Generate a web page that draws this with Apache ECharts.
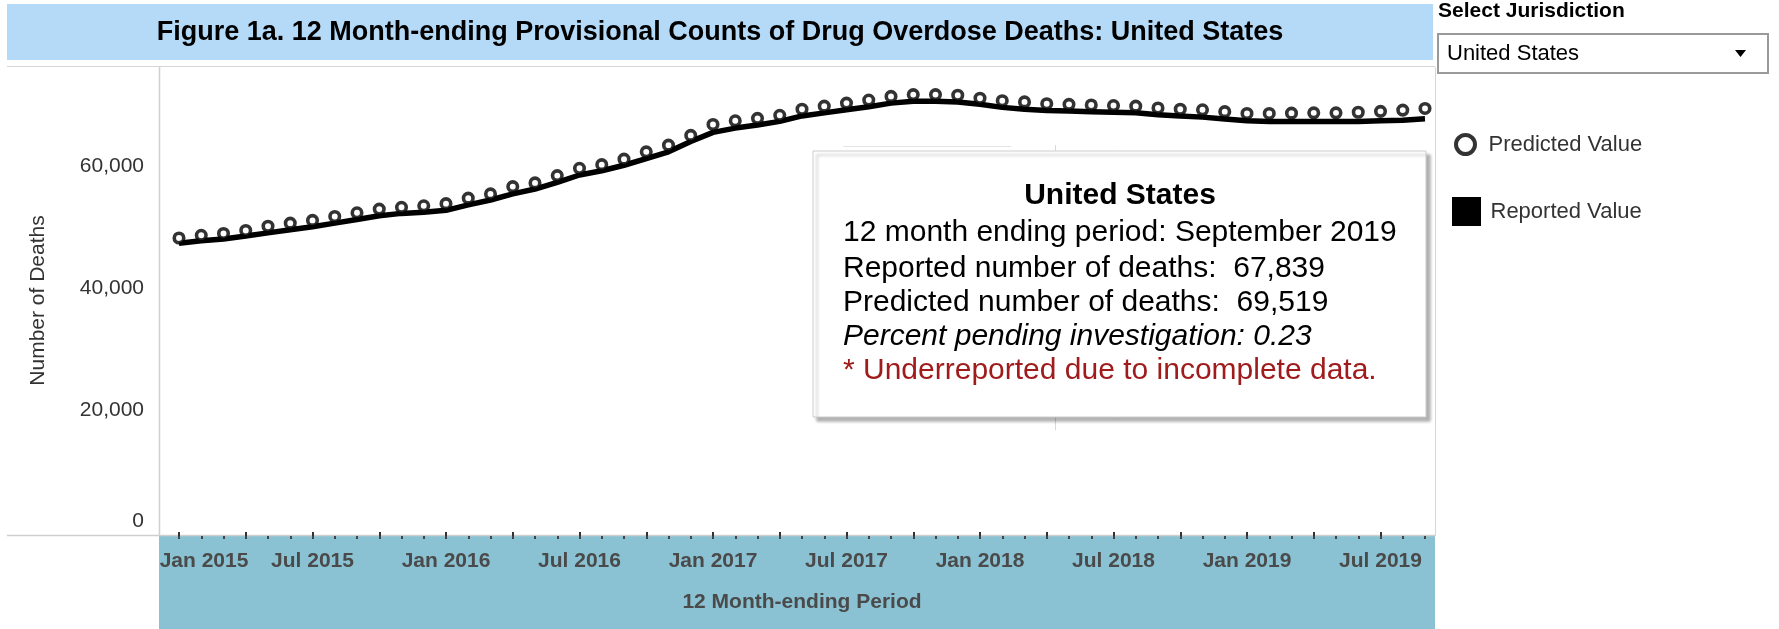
<!DOCTYPE html>
<html><head><meta charset="utf-8">
<script src="https://cdn.jsdelivr.net/npm/echarts@6/dist/echarts.min.js"></script>
<style>html,body{margin:0;padding:0;background:#fff}#c{width:1779px;height:629px}</style>
</head><body><div id="c"></div>
<script>
// ---- data ----
const months = ['Jan 2015','Feb 2015','Mar 2015','Apr 2015','May 2015','Jun 2015','Jul 2015','Aug 2015','Sep 2015','Oct 2015','Nov 2015','Dec 2015',
  'Jan 2016','Feb 2016','Mar 2016','Apr 2016','May 2016','Jun 2016','Jul 2016','Aug 2016','Sep 2016','Oct 2016','Nov 2016','Dec 2016',
  'Jan 2017','Feb 2017','Mar 2017','Apr 2017','May 2017','Jun 2017','Jul 2017','Aug 2017','Sep 2017','Oct 2017','Nov 2017','Dec 2017',
  'Jan 2018','Feb 2018','Mar 2018','Apr 2018','May 2018','Jun 2018','Jul 2018','Aug 2018','Sep 2018','Oct 2018','Nov 2018','Dec 2018',
  'Jan 2019','Feb 2019','Mar 2019','Apr 2019','May 2019','Jun 2019','Jul 2019','Aug 2019','Sep 2019'];
const predicted = [48260,48700,49000,49500,50200,50700,51150,51800,52400,53000,53300,53550,
  53900,54800,55500,56700,57300,58500,59700,60300,61200,62400,63500,65100,
  66900,67500,67900,68400,69400,69900,70400,70900,71500,71800,71800,71700,
  71200,70800,70600,70300,70200,70100,70000,69900,69600,69400,69300,69000,
  68700,68700,68750,68800,68800,68900,69050,69250,69519];
const reported = [47400,47800,48100,48600,49100,49600,50100,50700,51300,51900,52300,52500,
  52800,53700,54500,55500,56300,57400,58600,59300,60200,61300,62400,64100,
  65600,66300,66800,67400,68300,68800,69300,69800,70400,70700,70700,70600,
  70200,69700,69400,69200,69100,69000,68900,68800,68500,68300,68100,67800,
  67500,67400,67400,67400,67400,67400,67500,67600,67839];
const yTicks = [0, 20000, 40000, 60000];
const xLabelMonths = ['Jan', 'Jul'];
const jurisdiction = 'United States';
const pendingPct = '0.23';
const monthFull = {Jan:'January',Feb:'February',Mar:'March',Apr:'April',May:'May',Jun:'June',Jul:'July',Aug:'August',Sep:'September',Oct:'October',Nov:'November',Dec:'December'};

// ---- chart ----
const FONT = '"Liberation Sans", Arial, Helvetica, sans-serif';
const fmt = v => v.toLocaleString('en-US');
const last = months.length - 1;
const lastPeriod = monthFull[months[last].slice(0,3)] + ' ' + months[last].slice(4);

const chart = echarts.init(document.getElementById('c'), null, {renderer: 'canvas'});

const tipLines = [
  {text: '12 month ending period: ' + lastPeriod, style: {}},
  {text: 'Reported number of deaths:  ' + fmt(reported[last]), style: {}},
  {text: 'Predicted number of deaths:  ' + fmt(predicted[last]), style: {}},
  {text: 'Percent pending investigation: ' + pendingPct, style: {fontStyle: 'italic'}},
  {text: '* Underreported due to incomplete data.', style: {fill: '#a01c1c'}}
];
const tipLineY = [233, 269, 303, 337, 371];

const graphics = [
  {type: 'rect', z: -5, shape: {x: 7, y: 4, width: 1426, height: 56}, style: {fill: '#b4daf8'}},
  {type: 'text', x: 720, y: 33, style: {text: 'Figure 1a. 12 Month-ending Provisional Counts of Drug Overdose Deaths: ' + jurisdiction,
    fontFamily: FONT, fontSize: 27, fontWeight: 'bold', fill: '#000', align: 'center', verticalAlign: 'middle'}},
  {type: 'rect', z: -5, shape: {x: 159, y: 536, width: 1276, height: 93}, style: {fill: '#8ac2d3'}},
  {type: 'line', z: -4, shape: {x1: 7, y1: 66.5, x2: 1435, y2: 66.5}, style: {stroke: '#d6d6d6', lineWidth: 1}},
  {type: 'line', z: -4, shape: {x1: 7, y1: 535.5, x2: 1435, y2: 535.5}, style: {stroke: '#cfcfcf', lineWidth: 1.5}},
  {type: 'line', z: -4, shape: {x1: 159.5, y1: 67, x2: 159.5, y2: 536}, style: {stroke: '#d0d0d0', lineWidth: 1.5}},
  {type: 'line', z: -4, shape: {x1: 1435.5, y1: 67, x2: 1435.5, y2: 536}, style: {stroke: '#d6d6d6', lineWidth: 1}},
  {type: 'line', z: -4, shape: {x1: 1055.5, y1: 145, x2: 1055.5, y2: 430}, style: {stroke: '#d8d8d8', lineWidth: 1}},
  {type: 'line', z: -4, shape: {x1: 843, y1: 146.5, x2: 1011, y2: 146.5}, style: {stroke: '#e4e4e4', lineWidth: 1}},
  // jurisdiction selector
  {type: 'text', x: 1438, y: 11, style: {text: 'Select Jurisdiction', fontFamily: FONT, fontSize: 21, fontWeight: 'bold', fill: '#000', align: 'left', verticalAlign: 'middle'}},
  {type: 'rect', shape: {x: 1438, y: 34, width: 330, height: 39}, style: {fill: '#fff', stroke: '#9a9a9a', lineWidth: 2}},
  {type: 'text', x: 1447, y: 54, style: {text: jurisdiction, fontFamily: FONT, fontSize: 22, fill: '#000', align: 'left', verticalAlign: 'middle'}},
  {type: 'polygon', shape: {points: [[1735, 50], [1746, 50], [1740.5, 57]]}, style: {fill: '#000'}},
  // tooltip box
  {type: 'rect', z: 10, shape: {x: 813, y: 151, width: 613, height: 266}, style: {fill: '#fff', stroke: '#cccccc', lineWidth: 1,
    shadowBlur: 3, shadowOffsetX: 4, shadowOffsetY: 4, shadowColor: 'rgba(0,0,0,0.3)'}},
  {type: 'text', z: 11, x: 1120, y: 196, style: {text: jurisdiction, fontFamily: FONT, fontSize: 30, fontWeight: 'bold', fill: '#000', align: 'center', verticalAlign: 'middle'}}
];
tipLines.forEach((l, i) => {
  graphics.push({type: 'text', z: 11, x: 843, y: tipLineY[i], style: Object.assign({text: l.text, fontFamily: FONT, fontSize: 30, fill: '#000', align: 'left', verticalAlign: 'middle'}, l.style)});
});

const xLabelStyle = {fontFamily: FONT, fontSize: 21, fontWeight: 'bold', color: '#4a4a4a'};
const SQUARE = 'path://M0,0H10V10H0Z';

const option = {
  animation: false,
  backgroundColor: '#fff',
  grid: {left: 179, right: 354, top: 69, bottom: 97, containLabel: false},
  legend: [
    {data: [{name: 'Predicted Value', icon: 'circle', itemStyle: {color: '#fff', borderColor: '#000', borderWidth: 4}}],
      orient: 'vertical', left: 1454, top: 133, padding: 0, itemWidth: 36, itemHeight: 19, selectedMode: false,
      textStyle: {fontFamily: FONT, fontSize: 22, color: '#333'}},
    {data: [{name: 'Reported Value', icon: SQUARE, itemStyle: {color: '#000', borderWidth: 0}}],
      orient: 'vertical', left: 1452, top: 197, padding: 0, itemWidth: 38, itemHeight: 29, selectedMode: false,
      textStyle: {fontFamily: FONT, fontSize: 22, color: '#333'}}
  ],
  xAxis: [
    {type: 'category', data: months, boundaryGap: false, position: 'bottom', offset: 4,
      axisLine: {show: false},
      axisTick: {show: true, interval: (i) => i % 3 === 0, length: 7, lineStyle: {color: '#333', width: 2}},
      axisLabel: Object.assign({interval: 0, margin: 15,
        formatter: (v, i) => {
          if (!xLabelMonths.includes(v.slice(0, 3))) return '';
          return i === 0 ? '{first|' + v + '}' : v;
        },
        rich: {first: Object.assign({padding: [0, 0, 0, 50]}, xLabelStyle)}}, xLabelStyle),
      splitLine: {show: false},
      name: '12 Month-ending Period', nameLocation: 'middle', nameGap: 56,
      nameTextStyle: {fontFamily: FONT, fontSize: 21, fontWeight: 'bold', color: '#4a4a4a'}},
    {type: 'category', data: months, boundaryGap: false, position: 'bottom', offset: 4,
      axisLine: {show: false}, axisLabel: {show: false},
      axisTick: {show: true, interval: 0, length: 3, lineStyle: {color: '#444', width: 2}},
      splitLine: {show: false}}
  ],
  yAxis: {
    type: 'value', min: 0, max: 76000, interval: 20000,
    axisLine: {show: false}, axisTick: {show: false}, splitLine: {show: false},
    axisLabel: {margin: 35, fontFamily: FONT, fontSize: 21, color: '#333', showMaxLabel: false,
      verticalAlignMinLabel: 'bottom',
      formatter: v => yTicks.includes(v) ? fmt(v) : ''},
    name: 'Number of Deaths', nameLocation: 'middle', nameRotate: 90, nameGap: 130,
    nameTextStyle: {fontFamily: FONT, fontSize: 21, color: '#333'}
  },
  series: [
    {name: 'Reported Value', type: 'line', xAxisIndex: 0, data: reported, showSymbol: false, symbol: 'none',
      lineStyle: {color: '#000', width: 5.5}, itemStyle: {color: '#000'}, z: 2},
    {name: 'Predicted Value', type: 'scatter', xAxisIndex: 0, data: predicted, symbol: 'circle', symbolSize: 9.5,
      itemStyle: {color: '#fff', borderColor: '#000', borderWidth: 3.6}, z: 3}
  ],
  graphic: graphics
};
chart.setOption(option);
</script>
</body></html>
